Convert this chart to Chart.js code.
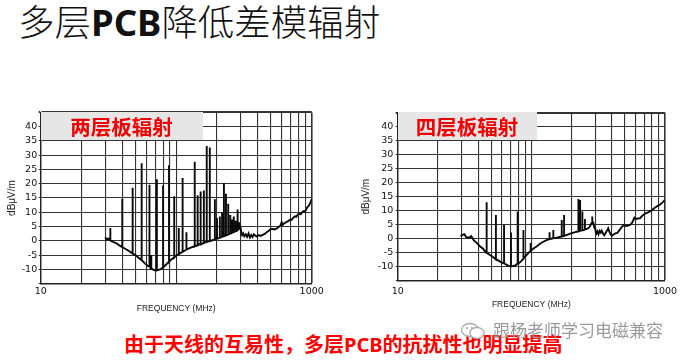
<!DOCTYPE html>
<html>
<head>
<meta charset="utf-8">
<script src="https://cdn.jsdelivr.net/npm/chart.js@4.4.1/dist/chart.umd.min.js"></script>
<style>
  html, body { margin: 0; padding: 0; background: #fff; }
  body { width: 684px; height: 363px; position: relative; overflow: hidden; font-family: "Noto Sans CJK SC", sans-serif; }
  .abs { position: absolute; }
  #title { left: 18px; top: 3px; font-size: 36.5px; line-height: 1; font-weight: 300; color: #111; white-space: nowrap; }
  #title b, #caption b { font-family: "Noto Sans", sans-serif; font-weight: 700; }
  .tag { top: 112px; height: 28px; background: #e6e6e6; display: flex; align-items: center; justify-content: center;
         color: #ee0000; font-weight: 700; font-size: 20.5px; line-height: 1; z-index: 2; }
  #caption { left: 124px; top: 334px; font-size: 20px; line-height: 1; font-weight: 700; color: #ff0000; white-space: nowrap; }
  #mark { left: 493px; top: 321px; font-size: 17px; line-height: 1; color: #9a9a9a; white-space: nowrap; z-index: 3; }
  #icon { left: 460px; top: 322px; z-index: 3; }
  canvas { display: block; }
</style>
</head>
<body>
<div id="title" class="abs">多层<b>PCB</b>降低差模辐射</div>

<div class="abs" style="left:0; top:100px;"><canvas id="twoLayer" width="340" height="220"></canvas></div>
<div class="abs" style="left:340px; top:100px;"><canvas id="fourLayer" width="344" height="220"></canvas></div>

<div class="abs tag" style="left:40.5px; width:162px;">两层板辐射</div>
<div class="abs tag" style="left:397.5px; width:139px;">四层板辐射</div>

<div id="caption" class="abs">由于天线的互易性，多层<b>PCB</b>的抗扰性也明显提高</div>
<svg id="icon" class="abs" width="26" height="18" viewBox="0 0 26 18">
  <ellipse cx="10" cy="8" rx="8.5" ry="6.5" fill="none" stroke="#aaa" stroke-width="1.3"/>
  <ellipse cx="17" cy="11" rx="7" ry="5.5" fill="#fff" stroke="#aaa" stroke-width="1.3"/>
  <circle cx="7" cy="6" r="1" fill="#aaa"/><circle cx="12" cy="6" r="1" fill="#aaa"/>
</svg>
<div id="mark" class="abs">跟杨老师学习电磁兼容</div>

<script>
// grid lines of the log paper (MHz), only the ends are labelled
const gridMHz = [10, 20, 30, 40, 50, 60, 70, 80, 90, 100, 200, 300, 400, 500, 600, 700, 800, 900, 1000];
const labelMHz = [10, 1000];

// two layer board - background trace
const twoLayerMHz = [30, 30.5, 31.5, 33, 34.5, 36, 38, 40, 42, 44.5, 47, 50, 53, 56, 59, 62, 65, 68, 71, 74, 77, 80, 84, 88, 92, 96,
  100, 105, 110, 116, 122, 128, 135, 142, 150, 158, 166, 175, 185, 195, 205, 215, 228, 240, 252, 265, 278, 290, 298,
  302, 306, 312, 318, 326, 334, 342, 350, 358, 366, 374, 384, 395, 405, 420, 435, 450, 465, 480, 495, 510, 530, 550,
  570, 590, 600, 610, 630, 650, 670, 690, 710, 730, 750, 770, 790, 810, 830, 850, 870, 890, 910, 930, 950, 970, 985, 1000];
const twoLayerDb = [1.2, 0.3, 0.8, 0.2, -0.5, -0.8, -1.6, -2.2, -2.8, -3.5, -4.3, -5.0, -6.0, -6.9, -8.0, -8.9, -9.8, -10.2, -10.4, -10.2, -9.9, -9.3, -8.4, -7.4, -6.5, -5.9,
  -5.2, -4.6, -4.0, -3.4, -2.8, -2.4, -2.0, -1.6, -1.1, -0.8, -0.4, -0.1, 0.2, 0.6, 0.9, 1.2, 1.7, 2.1, 2.6, 3.1, 3.5, 4.2, 4.8,
  3.0, 2.0, 2.6, 1.6, 2.3, 1.4, 2.6, 1.2, 2.0, 1.3, 2.3, 1.8, 1.5, 2.0, 1.7, 2.1, 2.4, 3.0, 3.4, 4.0, 4.2, 4.0, 4.3,
  4.8, 5.5, 6.5, 5.6, 6.2, 6.6, 6.9, 7.4, 7.3, 8.0, 8.6, 8.4, 9.2, 9.5, 9.3, 10.0, 10.4, 10.2, 11.0, 11.8, 12.2, 13.0, 13.8, 14.6];
// two layer board - harmonic spikes (frequency, peak, level at the foot)
const twoLayerSpikeMHz = [32.5, 40, 47.7, 55.6, 63.5, 65.5, 72, 80, 88.5, 96.7, 104.5, 111.5, 119, 137, 144, 151.5, 160, 168, 177, 193,
  200, 210, 218, 225, 233, 242, 250, 258, 266, 275, 284, 293];
const twoLayerSpikePeak = [4.5, 14.7, 18.6, 27.2, 19.6, -5, 21.6, 19.5, 26.5, 15.6, 4.5, 22, 3, 27.7, 16, 17.3, 17.6, 33.2, 32.7, 14.6,
  8, 8.5, 10, 20.3, 16.5, 13, 9, 7.5, 8.5, 7, 11, 6.5];
const twoLayerSpikeFoot = [0.3, -2.2, -4.5, -6.8, -9.0, -9.7, -10.4, -9.3, -7.4, -5.9, -4.6, -3.9, -3.1, -2.0, -1.6, -1.2, -0.8, -0.4, -0.1, 0.5,
  0.8, 1.1, 1.4, 1.6, 1.9, 2.2, 2.5, 2.8, 3.1, 3.4, 3.8, 4.4];

// four layer board - background trace
const fourLayerMHz = [29.6, 30.5, 31.5, 32.5, 34, 35.5, 37, 39, 41, 43.5, 46, 49, 52, 55, 58, 61, 64, 67, 70, 73, 76, 80, 84, 88, 92, 96,
  100, 105, 110, 116, 123, 130, 138, 146, 155, 165, 175, 185, 195, 207, 219, 232, 246, 258, 268, 276, 282, 288, 292, 296,
  300, 306, 312, 318, 324, 330, 336, 344, 352, 360, 368, 376, 384, 392, 400, 412, 425, 440, 455, 470, 490, 510, 530, 550,
  570, 590, 605, 620, 650, 680, 710, 740, 770, 800, 830, 860, 890, 920, 950, 975, 1000];
const fourLayerDb = [0.8, 1.4, 1.6, 0.6, 0.3, 0.9, -0.5, -1.5, -2.6, -3.6, -5.0, -5.8, -6.6, -7.4, -8.1, -8.6, -9.1, -9.6, -9.9, -9.7, -9.5, -8.9, -8.0, -7.0, -5.9, -4.9,
  -4.1, -3.3, -2.7, -1.8, -1.1, -0.5, -0.1, 0.2, 0.4, 0.7, 1.0, 1.4, 1.8, 2.2, 2.5, 2.8, 3.1, 3.4, 3.8, 4.6, 5.5, 6.4, 5.4, 4.0,
  3.6, 1.8, 2.6, 1.6, 2.8, 2.2, 2.9, 1.8, 1.2, 2.1, 2.8, 3.7, 2.4, 1.6, 1.0, 1.5, 1.9, 2.1, 3.0, 3.9, 4.9, 4.5, 4.7, 5.0,
  5.8, 7.5, 7.0, 7.2, 7.3, 8.3, 9.0, 9.3, 9.7, 10.2, 10.9, 11.4, 11.8, 12.2, 12.8, 13.3, 13.9];
// four layer board - harmonic spikes
const fourLayerSpikeMHz = [46.3, 54.3, 62.5, 70.4, 79, 86.9, 98.9, 136.8, 146, 168.8, 175.8, 224.9, 231.4, 240.8, 251.8, 284.6];
const fourLayerSpikePeak = [13, 8.5, 4.9, 2.2, 9.7, 3.1, -1.5, 2.3, 3.1, 6.7, 8.5, 14.2, 13.8, 9.7, 7, 7.9];
const fourLayerSpikeFoot = [-5.0, -7.4, -8.8, -9.9, -8.9, -7.2, -4.3, -0.1, 0.2, 0.8, 1.0, 2.6, 2.8, 3.0, 3.3, 5.5];

// merge background and spikes into one trace sorted by frequency
function buildTrace(mhz, db, spikeMHz, spikePeak, spikeFoot) {
  const pts = mhz.map((f, i) => ({ x: f, y: db[i], k: 0 }));
  spikeMHz.forEach((f, i) => {
    pts.push({ x: f, y: spikeFoot[i], k: 1 }, { x: f, y: spikePeak[i], k: 2 }, { x: f, y: spikeFoot[i], k: 3 });
  });
  pts.sort((a, b) => a.x - b.x || a.k - b.k);
  return pts;
}

const tickFont = { family: 'DejaVu Sans', size: 9.5 };

function makeChart(id, trace, g) {
  const ctx = document.getElementById(id).getContext('2d');
  return new Chart(ctx, {
    type: 'line',
    data: {
      datasets: [{
        data: trace,
        borderColor: '#0a0a0a',
        borderWidth: 1.9,
        pointRadius: 0,
        tension: 0,
        fill: false,
      }],
    },
    options: {
      responsive: false,
      animation: false,
      events: [],
      layout: { autoPadding: false, padding: { left: 0, top: g.top, right: g.right, bottom: 0 } },
      plugins: { legend: { display: false }, tooltip: { enabled: false } },
      scales: {
        x: {
          type: 'logarithmic',
          min: 10,
          max: 1000,
          afterFit: s => { s.height = g.xH; },
          afterBuildTicks: s => { s.ticks = gridMHz.map(v => ({ value: v })); },
          ticks: {
            autoSkip: false, maxRotation: 0, minRotation: 0, padding: g.xPad,
            font: tickFont, color: '#111',
            callback: v => labelMHz.includes(v) ? String(v) : '',
          },
          grid: { color: '#333', drawTicks: false, lineWidth: c => (c.tick && c.tick.value === 1000) ? 1.6 : 1.1 },
          border: { color: '#222', width: 1.4 },
          title: {
            display: true, text: 'FREQUENCY (MHz)', color: '#222',
            font: { family: 'Liberation Sans', size: 8.5 }, padding: { top: 0, bottom: g.xTitlePad },
          },
        },
        y: {
          min: -15,
          max: 45,
          afterFit: s => { s.width = g.yW; },
          ticks: {
            stepSize: 5, autoSkip: false, padding: g.yPad, font: tickFont, color: '#111',
            callback: v => (v > -15 && v < 45) ? String(v) : '',
          },
          grid: { color: '#333', tickLength: 2, lineWidth: c => (c.tick && c.tick.value === 45) ? 2 : 1.1 },
          border: { color: '#222', width: 1.4 },
          title: {
            display: true, text: 'dBμV/m', color: '#222',
            font: { family: 'Liberation Sans', size: 10 }, padding: { top: g.yTitlePad, bottom: 0 },
          },
        },
      },
    },
  });
}

// left chart: two layer board
const twoLayerChart = makeChart('twoLayer',
  buildTrace(twoLayerMHz, twoLayerDb, twoLayerSpikeMHz, twoLayerSpikePeak, twoLayerSpikeFoot),
  { top: 12.4, right: 28.3, yW: 40.7, xH: 36.4, xPad: 2.4, yPad: 1.5, xTitlePad: 6, yTitlePad: 6 });

// right chart: four layer board
const fourLayerChart = makeChart('fourLayer',
  buildTrace(fourLayerMHz, fourLayerDb, fourLayerSpikeMHz, fourLayerSpikePeak, fourLayerSpikeFoot),
  { top: 12.7, right: 19, yW: 57.7, xH: 39.3, xPad: 5.3, yPad: 2.4, xTitlePad: 10, yTitlePad: 20.7 });
</script>
</body>
</html>
